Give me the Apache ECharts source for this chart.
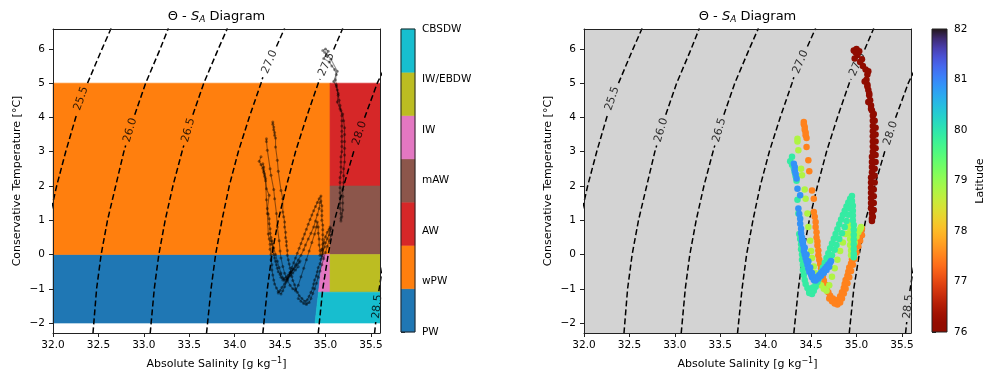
<!DOCTYPE html>
<html><head><meta charset="utf-8">
<script src="https://cdn.jsdelivr.net/npm/echarts@6/dist/echarts.min.js"></script>
<style>html,body{margin:0;padding:0;background:#fff}#c{width:985px;height:377px}</style>
</head><body><div id="c"></div>
<script>
// ---------------- data ----------------
const xTicks = [32.0, 32.5, 33.0, 33.5, 34.0, 34.5, 35.0, 35.5];
const yTicks = [-2, -1, 0, 1, 2, 3, 4, 5, 6];
const xLim = [32.0, 35.6];
const yLim = [-2.29, 6.58];

const waterMassNames = ['PW', 'wPW', 'AW', 'mAW', 'IW', 'IW/EBDW', 'CBSDW'];
const waterMassTicks = [0, 1, 2, 3, 4, 5, 6];
const waterMassColors = ['#1f77b4', '#ff7f0e', '#d62728', '#8c564b', '#e377c2', '#bcbd22', '#17becf'];
const polyPW = [[32, -2], [34.885, -2], [34.97, 0], [32, 0]];
const polyWPW = [[32, 0], [35.05, 0], [35.05, 5], [32, 5]];
const polyAW = [[35.05, 2], [35.6, 2], [35.6, 5], [35.05, 5]];
const polyMAW = [[35.05, 0], [35.6, 0], [35.6, 2], [35.05, 2]];
const polyIW = [[34.923, -1.1], [35.05, -1.1], [35.05, 0], [34.97, 0]];
const polyIWEBDW = [[35.05, -1.1], [35.6, -1.1], [35.6, 0], [35.05, 0]];
const polyCBSDW = [[34.885, -2], [35.6, -2], [35.6, -1.1], [34.923, -1.1]];

const latTicks = [76, 77, 78, 79, 80, 81, 82];
const latRange = [76, 82];

// isopycnals (sigma0), null = gap for inline label
const contourLevels = ['25.5', '26.0', '26.5', '27.0', '27.5', '28.0', '28.5'];
const sig255 = [[31.79,-2.3],[31.835,-1],[31.885,0],[31.955,1],[32.04,2],[32.14,3],[32.25,4],[32.263,4.1],null,[32.38,5.0],[32.54,6],[32.64,6.6]];
const sig260 = [[32.44,-2.3],[32.48,-1],[32.53,0],[32.60,1],[32.69,2],[32.78,3],[32.80,3.18],null,[32.90,4.08],[33.02,5],[33.18,6],[33.27,6.6]];
const sig265 = [[33.07,-2.3],[33.115,-1],[33.165,0],[33.235,1],[33.32,2],[33.42,3],[33.44,3.18],null,[33.54,4.08],[33.66,5],[33.82,6],[33.92,6.6]];
const sig270 = [[33.69,-2.3],[33.74,-1],[33.79,0],[33.86,1],[33.94,2],[34.04,3],[34.16,4],[34.29,5],[34.31,5.17],null,[34.46,6.07],[34.55,6.6]];
const sig275 = [[34.31,-2.3],[34.36,-1],[34.41,0],[34.48,1],[34.57,2],[34.67,3],[34.79,4],[34.92,5],[34.94,5.12],null,[35.09,5.98],[35.19,6.6]];
const sig280 = [[34.92,-2.3],[34.97,-1],[35.03,0],[35.10,1],[35.20,2],[35.31,3],[35.32,3.09],null,[35.43,3.99],[35.57,5],[35.75,6]];
const sig285 = [[35.54,-2.3],[35.553,-1.97],null,[35.587,-1.07],[35.65,0],[35.72,1]];
const contourLabelS = [32.31, 32.85, 33.49, 34.385, 35.01, 35.375, 35.57];
const contourLabelT = [4.55, 3.63, 3.63, 5.62, 5.55, 3.54, -1.52];
const contourLabelRot = [71, 74, 74, 67, 66, 72, 84];

// CTD profiles [S_A, Theta]
const darkRed1 = [[34.97,5.95],[35.00,6.00],[35.03,5.93],[35.01,5.82],[34.98,5.72],[35.04,5.62],[35.07,5.50],[35.10,5.40],[35.12,5.25],[35.11,5.10],[35.12,4.95],[35.13,4.80],[35.14,4.65],[35.15,4.50],[35.16,4.35],[35.17,4.20],[35.18,4.05],[35.18,3.90],[35.18,3.75],[35.18,3.60],[35.18,3.45],[35.18,3.30],[35.18,3.15],[35.18,3.00],[35.17,2.85],[35.17,2.70],[35.17,2.55],[35.17,2.40],[35.16,2.25],[35.16,2.10],[35.16,1.95],[35.16,1.80],[35.16,1.65],[35.16,1.50],[35.16,1.35],[35.17,1.20],[35.17,1.05],[35.17,0.98]];
const darkRed2 = [[35.18,1.10],[35.19,1.30],[35.19,1.50],[35.19,1.70],[35.19,1.90],[35.20,2.10],[35.20,2.30],[35.20,2.50],[35.21,2.70],[35.21,2.90],[35.21,3.10],[35.21,3.30],[35.21,3.50],[35.21,3.70],[35.20,3.90],[35.19,4.10],[35.16,4.25],[35.13,4.45],[35.14,4.70],[35.12,4.90],[35.09,5.05],[35.13,5.35],[35.06,5.70],[34.99,5.90]];
const orange1 = [[34.42,3.87],[34.42,3.80],[34.43,3.72],[34.43,3.64],[34.44,3.56],[34.44,3.48],[34.45,3.40],[34.45,3.14],[34.47,2.75],[34.48,2.43],[34.51,1.87],[34.53,1.63],[34.53,1.24],[34.54,1.10],[34.55,0.95],[34.55,0.80],[34.56,0.65],[34.56,0.50],[34.57,0.38],[34.57,0.26],[34.58,0.12],[34.58,-0.02],[34.59,-0.15],[34.60,-0.28],[34.61,-0.40],[34.62,-0.52],[34.63,-0.64],[34.64,-0.76],[34.66,-0.88],[34.67,-1.00],[34.69,-1.10],[34.71,-1.20],[34.74,-1.28],[34.77,-1.36],[34.79,-1.40],[34.80,-1.32],[34.82,-1.22],[34.84,-1.10],[34.86,-0.98],[34.87,-0.86],[34.88,-0.74],[34.90,-0.62],[34.91,-0.50],[34.92,-0.38],[34.94,-0.26],[34.95,-0.14],[34.96,-0.02],[34.97,0.10],[34.99,0.22],[35.00,0.34],[35.02,0.46],[35.04,0.58],[35.05,0.68],[35.06,0.76]];
const orange2 = [[34.70,-1.28],[34.73,-1.36],[34.76,-1.43],[34.79,-1.46],[34.82,-1.40],[34.84,-1.28],[34.86,-1.14],[34.88,-1.00],[34.90,-0.84],[34.92,-0.66],[34.94,-0.48],[34.96,-0.30],[34.98,-0.12],[35.00,0.06],[35.02,0.24],[35.04,0.40],[35.06,0.56]];
const yellowGreen = [[34.35,3.38],[34.35,3.30],[34.36,3.04],[34.39,2.50],[34.40,2.31],[34.43,1.90],[34.44,1.63],[34.46,1.20],[34.47,0.80],[34.49,0.40],[34.50,0.10],[34.51,-0.10],[34.53,-0.35],[34.55,-0.55],[34.58,-0.75],[34.61,-0.90],[34.64,-1.00],[34.67,-1.06],[34.70,-0.90],[34.73,-0.65],[34.76,-0.40],[34.79,-0.15],[34.82,0.10],[34.85,0.35],[34.88,0.60],[34.90,0.80],[34.91,0.95],[34.92,0.80],[34.92,0.62],[34.93,0.45],[34.93,0.28],[34.94,0.12],[34.94,-0.02],[34.96,0.15],[34.98,0.35],[35.00,0.52],[35.02,0.65],[35.04,0.74],[35.05,0.80]];
const green1 = [[34.29,2.85],[34.27,2.72],[34.29,2.62],[34.31,2.52],[34.32,2.40],[34.33,2.28],[34.34,2.15],[34.35,1.60],[34.36,1.20],[34.37,0.60],[34.38,0.45],[34.39,0.30],[34.39,0.15],[34.40,0.00],[34.40,-0.15],[34.41,-0.30],[34.41,-0.45],[34.42,-0.60],[34.43,-0.74],[34.44,-0.86],[34.46,-0.98],[34.48,-1.08],[34.51,-1.15],[34.53,-1.06],[34.55,-0.94],[34.57,-0.80],[34.59,-0.66],[34.61,-0.52],[34.63,-0.38],[34.65,-0.24],[34.67,-0.10],[34.69,0.04],[34.71,0.18],[34.73,0.32],[34.75,0.46],[34.77,0.60],[34.79,0.74],[34.81,0.88],[34.83,1.02],[34.85,1.15],[34.87,1.28],[34.89,1.40],[34.91,1.52],[34.93,1.63],[34.95,1.71],[34.95,1.56],[34.96,1.42],[34.96,1.28],[34.96,1.14],[34.96,1.00],[34.97,0.86],[34.97,0.72],[34.97,0.58],[34.97,0.44],[34.97,0.30],[34.97,0.16],[34.97,0.02],[34.97,-0.08]];
const green2 = [[34.48,-1.12],[34.50,-1.05],[34.52,-0.96],[34.55,-0.85],[34.58,-0.72],[34.61,-0.58],[34.64,-0.44],[34.67,-0.30],[34.70,-0.16],[34.73,-0.02],[34.76,0.14],[34.78,0.28],[34.81,0.45],[34.84,0.62],[34.87,0.80],[34.89,0.98],[34.91,1.16],[34.93,1.34],[34.94,1.52]];
const blue1 = [[34.31,2.65],[34.32,2.55],[34.32,2.45],[34.33,2.35],[34.34,2.22],[34.35,1.92],[34.38,1.73],[34.36,1.34],[34.37,1.18],[34.38,1.04],[34.38,0.90],[34.39,0.75],[34.39,0.62],[34.40,0.50],[34.40,0.40],[34.41,0.30],[34.42,0.20],[34.42,0.10],[34.43,0.00],[34.44,-0.10],[34.45,-0.20],[34.46,-0.30],[34.47,-0.40],[34.48,-0.50],[34.50,-0.58],[34.51,-0.66],[34.53,-0.74],[34.55,-0.70],[34.57,-0.65],[34.59,-0.60],[34.61,-0.54],[34.63,-0.48],[34.65,-0.42],[34.67,-0.36],[34.69,-0.29],[34.71,-0.23],[34.72,-0.19]];
const blue2 = [[34.41,0.40],[34.43,0.20],[34.45,0.00],[34.47,-0.20],[34.49,-0.38],[34.51,-0.54],[34.53,-0.68],[34.55,-0.76],[34.58,-0.70],[34.61,-0.62],[34.64,-0.54],[34.67,-0.45],[34.70,-0.36]];
const profileLat = [76.0, 76.0, 77.5, 77.5, 78.8, 79.9, 79.9, 80.9, 80.9];

// ---------------- build ----------------
const profiles = [darkRed1, darkRed2, orange1, orange2, yellowGreen, green1, green2, blue1, blue2];
const contours = [sig255, sig260, sig265, sig270, sig275, sig280, sig285];
const polys = [polyPW, polyWPW, polyAW, polyMAW, polyIW, polyIWEBDW, polyCBSDW];
const FONT = 'DejaVu Sans';
const AX = '#222';

function turbo(t) {
  t = Math.max(0, Math.min(1, t));
  const c = v => Math.max(0, Math.min(255, Math.round(v)));
  const r = 34.61 + t * (1172.33 - t * (10793.56 - t * (33300.12 - t * (38394.49 - t * 14825.05))));
  const g = 23.31 + t * (557.33 + t * (1225.33 - t * (3574.96 - t * (1073.77 + t * 707.56))));
  const b = 27.2 + t * (3211.1 - t * (15327.97 - t * (27814 - t * (22569.18 - t * 6838.66))));
  return 'rgb(' + c(r) + ',' + c(g) + ',' + c(b) + ')';
}
const N = 32;
const vmColors = Array.from({length: N + 1}, (_, k) => turbo(1 - k / N));
const gradStops = Array.from({length: N + 1}, (_, k) => ({offset: k / N, color: turbo(k / N)}));

const fmtMinus = v => (v < 0 ? '\u2212' + Math.abs(v) : String(v));

function mainAxes(gi) {
  const line = {show: true, onZero: false, lineStyle: {color: AX, width: 1}};
  return {
    x: [
      {gridIndex: gi, type: 'value', min: xLim[0], max: xLim[1], position: 'bottom', z: 10,
       axisLine: line, splitLine: {show: false},
       axisTick: {show: true, length: 4, customValues: xTicks, lineStyle: {color: AX, width: 1}},
       axisLabel: {customValues: xTicks, formatter: v => v.toFixed(1), margin: 7, fontSize: 10.5, color: '#000', fontFamily: FONT}},
      {gridIndex: gi, type: 'value', min: xLim[0], max: xLim[1], position: 'top', z: 10,
       axisLine: line, axisTick: {show: false}, axisLabel: {show: false}, splitLine: {show: false}}
    ],
    y: [
      {gridIndex: gi, type: 'value', min: yLim[0], max: yLim[1], position: 'left', z: 10,
       axisLine: line, splitLine: {show: false},
       axisTick: {show: true, length: 4, customValues: yTicks, lineStyle: {color: AX, width: 1}},
       axisLabel: {customValues: yTicks, formatter: fmtMinus, margin: 8, fontSize: 10.5, color: '#000', fontFamily: FONT}},
      {gridIndex: gi, type: 'value', min: yLim[0], max: yLim[1], position: 'right', z: 10,
       axisLine: line, axisTick: {show: false}, axisLabel: {show: false}, splitLine: {show: false}}
    ]
  };
}

const A0 = mainAxes(0), A2 = mainAxes(2);
const xAxis = [A0.x[0], A0.x[1],
  {gridIndex: 1, type: 'value', min: 0, max: 1, show: false},
  A2.x[0], A2.x[1],
  {gridIndex: 3, type: 'value', min: 0, max: 1, show: false}];
const yAxis = [A0.y[0], A0.y[1],
  {gridIndex: 1, type: 'value', min: 0, max: 6, position: 'right',
   axisLine: {show: false}, splitLine: {show: false},
   axisTick: {show: true, length: 4, customValues: waterMassTicks, lineStyle: {color: AX, width: 1}},
   axisLabel: {customValues: waterMassTicks, formatter: v => waterMassNames[Math.round(v)], margin: 7, fontSize: 10.5, color: '#000', fontFamily: FONT}},
  A2.y[0], A2.y[1],
  {gridIndex: 3, type: 'value', min: latRange[0], max: latRange[1], position: 'right',
   axisLine: {show: false}, splitLine: {show: false},
   axisTick: {show: true, length: 4, customValues: latTicks, lineStyle: {color: AX, width: 1}},
   axisLabel: {customValues: latTicks, formatter: v => String(v), margin: 7, fontSize: 10.5, color: '#000', fontFamily: FONT}}];

const series = [];
// water mass polygons
series.push({
  type: 'custom', xAxisIndex: 0, yAxisIndex: 0, silent: true, z: 1,
  data: polys.map((p, i) => [p[0][0], p[0][1], i]),
  renderItem: (params, api) => {
    const i = params.dataIndex;
    return {type: 'polygon', shape: {points: polys[i].map(v => api.coord(v))},
      style: {fill: waterMassColors[i], stroke: waterMassColors[i], lineWidth: 0.6}};
  }
});

function addContours(xi, yi) {
  contours.forEach((c) => {
    series.push({
      type: 'line', xAxisIndex: xi, yAxisIndex: yi, silent: true, z: 3,
      data: c.map(p => (p ? p : ['-', '-'])), showSymbol: false, smooth: false, connectNulls: false,
      lineStyle: {color: '#000', width: 1.5, type: [6, 3]}, clip: true
    });
  });
  series.push({
    type: 'scatter', xAxisIndex: xi, yAxisIndex: yi, silent: true, z: 3, symbolSize: 1,
    itemStyle: {color: 'rgba(0,0,0,0)'},
    data: contourLevels.map((lv, k) => ({value: [contourLabelS[k], contourLabelT[k]], name: lv,
      label: {rotate: contourLabelRot[k]}})),
    label: {show: true, position: 'inside', formatter: p => p.name, fontSize: 11, color: '#000', fontFamily: FONT}
  });
}
addContours(0, 0);

// left traces (black, translucent)
profiles.forEach(p => {
  series.push({
    type: 'line', xAxisIndex: 0, yAxisIndex: 0, silent: true, z: 4, data: p,
    showSymbol: true, symbol: 'circle', symbolSize: 3,
    lineStyle: {color: 'rgba(0,0,0,0.42)', width: 1.1},
    itemStyle: {color: 'rgba(0,0,0,0.42)', borderWidth: 0}
  });
});

// left colorbar
series.push({
  type: 'custom', xAxisIndex: 2, yAxisIndex: 2, silent: true,
  data: [[0.5, 3]],
  renderItem: (params, api) => {
    const ch = waterMassColors.map((col, i) => {
      const a = api.coord([0, i * 6 / 7]), b = api.coord([1, (i + 1) * 6 / 7]);
      return {type: 'rect', shape: {x: a[0], y: b[1], width: b[0] - a[0], height: a[1] - b[1]},
        style: {fill: col, stroke: col, lineWidth: 0.5}};
    });
    const a = api.coord([0, 0]), b = api.coord([1, 6]);
    ch.push({type: 'rect', shape: {x: a[0], y: b[1], width: b[0] - a[0], height: a[1] - b[1]},
      style: {fill: 'none', stroke: AX, lineWidth: 1}});
    return {type: 'group', children: ch};
  }
});

// right panel
addContours(3, 3);
const scatterIdx = [];
profiles.forEach((p, i) => {
  scatterIdx.push(series.length);
  series.push({
    type: 'scatter', xAxisIndex: 3, yAxisIndex: 3, silent: true, z: 5,
    symbolSize: 6.5, data: p.map(v => [v[0], v[1], profileLat[i]]),
    itemStyle: {opacity: 1}
  });
});

// right colorbar
series.push({
  type: 'custom', xAxisIndex: 5, yAxisIndex: 5, silent: true,
  data: [[0.5, 79]],
  renderItem: (params, api) => {
    const a = api.coord([0, latRange[0]]), b = api.coord([1, latRange[1]]);
    const shape = {x: a[0], y: b[1], width: b[0] - a[0], height: a[1] - b[1]};
    return {type: 'group', children: [
      {type: 'rect', shape, style: {fill: new echarts.graphic.LinearGradient(0, 0, 0, 1, gradStops)}},
      {type: 'rect', shape, style: {fill: 'none', stroke: AX, lineWidth: 1}}
    ]};
  }
});

const titleRich = {
  n: {fontSize: 13, fontFamily: FONT, fontStyle: 'normal', color: '#000', lineHeight: 18},
  i: {fontSize: 13, fontFamily: FONT, fontStyle: 'italic', color: '#000', lineHeight: 18},
  s: {fontSize: 9, fontFamily: FONT, fontStyle: 'italic', color: '#000', lineHeight: 18, padding: [6, 0, 0, 0]}
};
const titleText = '{n|\u0398 - }{i|S}{s|A}{n| Diagram}';
const xLabelRich = {
  n: {fontSize: 11, fontFamily: FONT, color: '#000', lineHeight: 16},
  u: {fontSize: 8, fontFamily: FONT, color: '#000', lineHeight: 16, padding: [0, 0, 6, 0]}
};
const xLabelText = '{n|Absolute Salinity [g kg}{u|\u22121}{n|]}';

const option = {
  animation: false,
  backgroundColor: '#fff',
  grid: [
    {left: 53, top: 29, width: 327, height: 304},
    {left: 401, top: 29, width: 14, height: 303},
    {left: 584, top: 29, width: 327, height: 304, show: true, backgroundColor: '#d3d3d3', borderWidth: 0},
    {left: 932, top: 29, width: 15, height: 303}
  ],
  xAxis, yAxis,
  visualMap: [{type: 'continuous', show: false, min: latRange[0], max: latRange[1], dimension: 2,
    seriesIndex: scatterIdx, inRange: {color: vmColors}}],
  graphic: [
    {type: 'text', x: 216.5, y: 17, style: {text: titleText, rich: titleRich, align: 'center', verticalAlign: 'middle'}},
    {type: 'text', x: 747.5, y: 17, style: {text: titleText, rich: titleRich, align: 'center', verticalAlign: 'middle'}},
    {type: 'text', x: 216.5, y: 364, style: {text: xLabelText, rich: xLabelRich, align: 'center', verticalAlign: 'middle'}},
    {type: 'text', x: 747.5, y: 364, style: {text: xLabelText, rich: xLabelRich, align: 'center', verticalAlign: 'middle'}},
    {type: 'text', x: 17, y: 181, rotation: Math.PI / 2, style: {text: 'Conservative Temperature [\u00b0C]', fontSize: 11, fontFamily: FONT, fill: '#000', align: 'center', verticalAlign: 'middle'}},
    {type: 'text', x: 548, y: 181, rotation: Math.PI / 2, style: {text: 'Conservative Temperature [\u00b0C]', fontSize: 11, fontFamily: FONT, fill: '#000', align: 'center', verticalAlign: 'middle'}},
    {type: 'text', x: 980, y: 181, rotation: Math.PI / 2, style: {text: 'Latitude', fontSize: 11, fontFamily: FONT, fill: '#000', align: 'center', verticalAlign: 'middle'}}
  ],
  series
};

const chart = echarts.init(document.getElementById('c'), null, {renderer: 'canvas'});
chart.setOption(option);
</script>
</body></html>
